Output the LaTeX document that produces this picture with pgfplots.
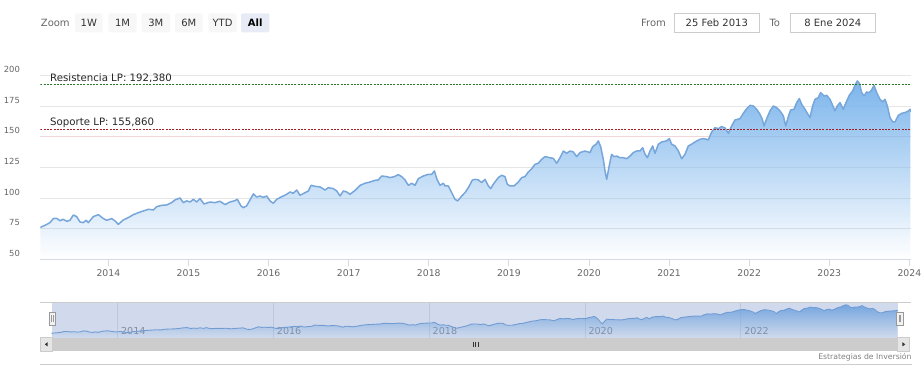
\documentclass[border=0pt]{standalone}
\usepackage{fontspec}
\setmainfont{DejaVu Sans}
\usepackage{pgfplots}
\usepackage{pgfplotstable}
\pgfplotsset{compat=1.18}
\usetikzlibrary{fadings}
\definecolor{hc}{HTML}{7CB5EC}
\definecolor{hcline}{HTML}{77A6DA}
\definecolor{gridc}{HTML}{E6E6E6}
\definecolor{pinkc}{HTML}{F3D6DA}
\definecolor{axisc}{HTML}{D5DBE5}
\definecolor{tickc}{HTML}{666666}
\definecolor{resc}{HTML}{2A7A2A}
\definecolor{sopc}{HTML}{A01E24}
\definecolor{maskc}{HTML}{6685C2}
\definecolor{btn}{HTML}{F7F7F7}
\definecolor{btnsel}{HTML}{E6EBF5}
\definecolor{bordc}{HTML}{CCCCCC}
\tikzfading[name=fadedown, top color=transparent!0, bottom color=transparent!100]

\pgfplotstableread{
x y
2013.150 76.0
2013.209 77.7
2013.271 79.9
2013.313 83.2
2013.354 83.4
2013.396 81.5
2013.438 82.6
2013.479 81.0
2013.521 81.8
2013.562 86.1
2013.604 84.8
2013.646 80.4
2013.687 79.9
2013.721 81.8
2013.750 79.9
2013.812 84.8
2013.875 86.4
2013.937 83.2
2013.979 81.8
2014.041 83.2
2014.083 81.3
2014.124 78.5
2014.187 82.1
2014.249 84.0
2014.312 86.4
2014.374 88.0
2014.437 89.4
2014.499 90.8
2014.561 90.2
2014.603 92.9
2014.665 94.0
2014.728 94.3
2014.790 96.2
2014.832 98.4
2014.894 100.0
2014.936 96.2
2014.977 97.6
2015.019 96.7
2015.061 98.9
2015.102 96.7
2015.144 99.5
2015.194 95.1
2015.268 96.7
2015.331 96.2
2015.393 97.3
2015.456 94.6
2015.518 96.7
2015.580 97.8
2015.609 98.9
2015.656 93.5
2015.685 92.1
2015.726 93.5
2015.768 98.4
2015.810 103.3
2015.851 100.8
2015.893 101.6
2015.935 100.5
2015.976 101.6
2016.018 97.6
2016.059 95.7
2016.101 98.9
2016.163 101.0
2016.226 103.0
2016.268 104.9
2016.309 103.8
2016.351 106.5
2016.392 102.2
2016.455 104.3
2016.497 105.7
2016.530 110.3
2016.580 109.5
2016.642 109.0
2016.705 106.5
2016.746 108.4
2016.809 107.6
2016.851 105.7
2016.892 101.6
2016.934 105.7
2016.975 104.9
2017.017 103.0
2017.080 106.2
2017.143 110.3
2017.204 112.0
2017.267 113.0
2017.329 114.4
2017.371 114.7
2017.412 117.9
2017.475 117.4
2017.516 116.6
2017.571 117.4
2017.620 119.0
2017.662 117.4
2017.703 114.7
2017.745 110.3
2017.787 112.0
2017.828 110.3
2017.870 115.8
2017.932 117.9
2017.995 119.3
2018.036 119.3
2018.070 122.0
2018.099 115.8
2018.140 110.3
2018.182 112.0
2018.203 109.8
2018.244 109.8
2018.286 104.3
2018.328 98.9
2018.361 97.6
2018.411 101.6
2018.452 104.3
2018.494 108.4
2018.543 114.5
2018.577 115.2
2018.619 114.7
2018.660 112.5
2018.702 115.2
2018.744 109.8
2018.773 107.6
2018.814 112.0
2018.868 116.6
2018.910 118.5
2018.951 117.4
2018.981 111.1
2019.014 109.8
2019.064 109.8
2019.118 113.0
2019.160 116.6
2019.201 117.4
2019.243 121.2
2019.285 123.9
2019.326 127.4
2019.368 128.3
2019.409 131.5
2019.451 133.7
2019.513 132.8
2019.555 132.3
2019.597 128.3
2019.638 132.8
2019.680 138.3
2019.721 136.4
2019.763 138.3
2019.805 137.5
2019.846 133.7
2019.888 137.0
2019.950 138.3
2020.013 137.0
2020.046 141.8
2020.088 143.8
2020.117 146.5
2020.146 141.8
2020.179 131.5
2020.200 122.0
2020.221 115.2
2020.254 126.6
2020.283 135.6
2020.313 133.7
2020.346 134.2
2020.387 132.8
2020.429 132.8
2020.471 132.0
2020.512 134.2
2020.554 137.0
2020.595 138.3
2020.637 138.3
2020.670 141.0
2020.700 135.6
2020.729 132.8
2020.762 138.3
2020.795 142.4
2020.824 136.4
2020.866 143.8
2020.908 145.7
2020.970 146.5
2021.003 148.4
2021.032 143.8
2021.074 142.4
2021.116 138.3
2021.157 132.0
2021.199 135.6
2021.240 142.4
2021.282 143.8
2021.324 145.7
2021.386 147.8
2021.428 148.4
2021.469 147.8
2021.490 147.3
2021.511 150.5
2021.532 153.8
2021.573 157.3
2021.615 156.5
2021.656 158.2
2021.698 157.1
2021.740 152.7
2021.781 158.7
2021.823 163.6
2021.886 164.7
2021.927 169.0
2021.969 172.8
2022.010 175.5
2022.052 175.0
2022.094 172.3
2022.135 168.2
2022.164 164.1
2022.185 158.7
2022.219 164.7
2022.260 171.0
2022.302 175.0
2022.343 173.6
2022.385 171.0
2022.427 166.8
2022.456 158.7
2022.489 166.3
2022.518 171.7
2022.560 172.3
2022.593 177.7
2022.626 181.0
2022.655 176.4
2022.697 172.3
2022.726 169.0
2022.759 165.5
2022.792 175.0
2022.822 180.4
2022.863 181.8
2022.892 185.9
2022.934 183.2
2022.967 183.7
2023.009 180.4
2023.042 175.5
2023.071 171.0
2023.100 175.0
2023.134 177.7
2023.175 172.3
2023.209 177.7
2023.250 183.7
2023.292 187.2
2023.321 191.8
2023.350 195.4
2023.375 193.5
2023.404 185.9
2023.434 183.2
2023.467 186.4
2023.500 185.9
2023.529 188.0
2023.559 191.8
2023.592 185.9
2023.633 180.4
2023.667 178.3
2023.696 180.4
2023.725 175.0
2023.758 165.5
2023.792 162.0
2023.821 162.0
2023.863 167.4
2023.904 169.0
2023.946 169.6
2023.988 170.9
2024.009 172.3
2024.019 170.1
}\data

\begin{document}
\begin{tikzpicture}
\begin{scope}[x=1pt,y=1pt]
\path[use as bounding box] (0,0) rectangle (922,379);
% range selector
\node[anchor=west, inner sep=0pt, text=tickc, font=\fontsize{10}{12}\selectfont] at (40.7,356.3) {Zoom};
\foreach \a/\b/\t in {75/102.7/1W, 108.3/136.7/1M, 141.7/170/3M, 175/202.7/6M, 208.3/236.7/YTD}{
  \fill[btn, rounded corners=1.5pt] (\a,346.7) rectangle (\b,365.7);
  \node[inner sep=0pt, text=black!80, font=\fontsize{10}{12}\selectfont] at ({(\a+\b)/2},356.3) {\t};
}
\fill[btnsel, rounded corners=1.5pt] (241,346.7) rectangle (269.3,365.7);
\node[inner sep=0pt, text=black, font=\fontsize{10}{12}\selectfont\bfseries] at (255.15,356.3) {All};
\node[anchor=west, inner sep=0pt, text=tickc, font=\fontsize{10}{12}\selectfont] at (641,356.3) {From};
\draw[bordc, line width=0.8pt, fill=white] (674.3,346.7) rectangle (759.3,365.7);
\node[inner sep=0pt, text=black!80, font=\fontsize{10}{12}\selectfont] at (716.8,356.3) {25 Feb 2013};
\node[anchor=west, inner sep=0pt, text=tickc, font=\fontsize{10}{12}\selectfont] at (769.3,356.3) {To};
\draw[bordc, line width=0.8pt, fill=white] (790,346.7) rectangle (875.7,365.7);
\node[inner sep=0pt, text=black!80, font=\fontsize{10}{12}\selectfont] at (832.85,356.3) {8 Ene 2024};
\end{scope}

% main chart
\begin{axis}[
  at={(40.3pt,119.7pt)}, anchor=south west,
  scale only axis, width=870.6pt, height=184pt,
  xmin=2013.15, xmax=2024.019, ymin=50, ymax=200,
  axis line style={draw=none},
  tick pos=left, tick align=outside, major tick length=7pt,
  xtick={2014,2015,2016,2017,2018,2019,2020,2021,2022,2023,2024},
  xticklabels={2014,2015,2016,2017,2018,2019,2020,2021,2022,2023,2024},
  xtick style={axisc, line width=0.8pt},
  ytick={50,75,100,125,150,175,200},
  yticklabels={50,75,100,125,150,175,200},
  ytick style={draw=none},
  ymajorgrids, grid style={gridc, line width=0.8pt},
  xticklabel style={font=\fontsize{9.3}{11}\selectfont, text=tickc, anchor=north, inner sep=0pt, yshift=-3.3pt},
  yticklabel style={font=\fontsize{8.4}{10}\selectfont, text=tickc, anchor=east, inner sep=0pt, xshift=-13.3pt, yshift=5.8pt},
]
\addplot[pinkc, line width=0.8pt] coordinates {(2013.15,150) (2024.019,150)};
\addplot[draw=none, fill=hc, path fading=fadedown] table[x=x,y=y] {\data} -- (axis cs:2024.019,50) -- (axis cs:2013.15,50) -- cycle;
\addplot[hcline, line width=1.5pt, line join=round] table[x=x,y=y] {\data};
\addplot[resc, line width=0.8pt, dash pattern=on 2pt off 1.3pt] coordinates {(2013.15,192.38) (2024.019,192.38)};
\addplot[sopc, line width=0.8pt, dash pattern=on 2pt off 1.3pt] coordinates {(2013.15,155.86) (2024.019,155.86)};
\end{axis}

% navigator
\begin{axis}[
  at={(51.3pt,41.3pt)}, anchor=south west,
  scale only axis, width=846.7pt, height=35.4pt,
  xmin=2013.15, xmax=2024.019, ymin=57.5, ymax=206,
  axis line style={draw=none},
  ytick=\empty, tick pos=left, major tick length=0pt,
  xtick={2014,2016,2018,2020,2022},
  xticklabels={2014,2016,2018,2020,2022},
  xmajorgrids, grid style={gridc, line width=0.8pt},
  xticklabel style={font=\fontsize{9.6}{11}\selectfont, text=black!45, anchor=west, inner sep=0pt, xshift=3.4pt, yshift=6.7pt},
]
\addplot[draw=none, fill=hc, path fading=fadedown] table[x=x,y=y] {\data} -- (axis cs:2024.019,57.5) -- (axis cs:2013.15,57.5) -- cycle;
\addplot[hcline, line width=0.9pt] table[x=x,y=y] {\data};
\end{axis}

\begin{scope}[x=1pt,y=1pt]
% main x axis line
\draw[axisc, line width=1.1pt] (40.3,119.7) -- (910.9,119.7);
% plot line labels
\node[anchor=base west, inner sep=0pt, text=black!85, font=\fontsize{10.2}{12}\selectfont] at (50,297.7) {Resistencia LP: 192,380};
\node[anchor=base west, inner sep=0pt, text=black!85, font=\fontsize{10.2}{12}\selectfont] at (50,253.3) {Soporte LP: 155,860};
% navigator mask and outline
\fill[maskc, fill opacity=0.3] (51.5,41.3) rectangle (897.5,76.7);
\draw[bordc, line width=0.6pt] (40,76.7) -- (911,76.7);
% handles
\foreach \a in {49,896.5}{
  \draw[black!40, fill=black!5, line width=0.6pt] (\a,53.5) rectangle (\a+6.5,66.5);
  \draw[black!40, line width=0.5pt] (\a+2.3,56.5) -- (\a+2.3,63.5);
  \draw[black!40, line width=0.5pt] (\a+4.2,56.5) -- (\a+4.2,63.5);
}
% scrollbar
\fill[bordc] (52,28) rectangle (897,41.3);
\draw[bordc, fill=black!10, line width=0.5pt] (40,28) rectangle (52,41.3);
\draw[bordc, fill=black!10, line width=0.5pt] (897,28) rectangle (909.5,41.3);
\fill[black!80] (44.8,34.65) -- (47.6,36.8) -- (47.6,32.5) -- cycle;
\fill[black!80] (905.2,34.65) -- (902.4,36.8) -- (902.4,32.5) -- cycle;
\foreach \g in {473.2,475.5,477.8}{\draw[black!80, line width=0.6pt] (\g,32.4) -- (\g,36.6);}
% bottom line and credits
\draw[bordc, line width=0.8pt] (40,15) -- (911.5,15);
\node[anchor=base east, inner sep=0pt, text=black!50, font=\fontsize{7.7}{9}\selectfont] at (911.7,19.5) {Estrategias de Inversión};
\end{scope}
\end{tikzpicture}
\end{document}
